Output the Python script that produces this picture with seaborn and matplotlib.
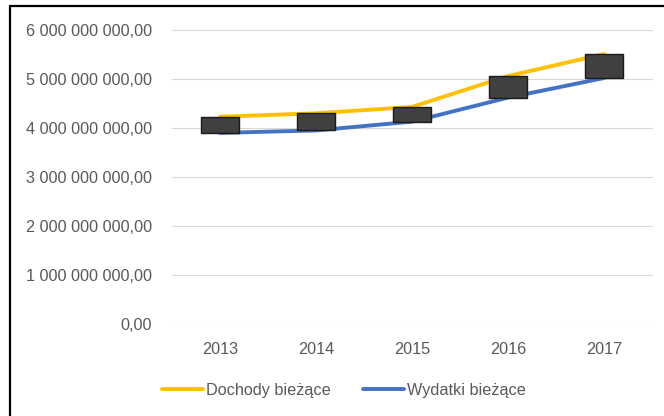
import matplotlib
matplotlib.use("Agg")
import matplotlib.pyplot as plt
from matplotlib.lines import Line2D
from matplotlib.ticker import FuncFormatter, MultipleLocator
import seaborn as sns
import pandas as pd

years = ["2013", "2014", "2015", "2016", "2017"]
dochody = [4.23e9, 4.30e9, 4.43e9, 5.06e9, 5.51e9]
wydatki = [3.90e9, 3.95e9, 4.13e9, 4.62e9, 5.02e9]
series_names = ["Dochody bieżące", "Wydatki bieżące"]
colors = ["#FFC000", "#4472C4"]

sns.set_theme(style="white")
plt.rcParams["font.family"] = ["Liberation Sans", "DejaVu Sans"]

df = pd.DataFrame({
    "Rok": years * 2,
    "Wartość": dochody + wydatki,
    "Seria": [series_names[0]] * len(years) + [series_names[1]] * len(years),
})

W, H = 664, 416
fig = plt.figure(figsize=(W / 100, H / 100), dpi=100)
ax = fig.add_axes([172 / W, 1 - 324 / H, (653 - 172) / W, (324 - 30) / H])

sns.lineplot(data=df, x="Rok", y="Wartość", hue="Seria", palette=colors,
             linewidth=2.8, ax=ax, legend=False, zorder=3)

low = [min(a, b) for a, b in zip(dochody, wydatki)]
diff = [abs(a - b) for a, b in zip(dochody, wydatki)]
ax.bar(years, diff, bottom=low, width=0.40, color="#404040",
       edgecolor="#1a1a1a", linewidth=1.0, zorder=4)

ax.set_xlim(-0.5, 4.51)
ax.set_ylim(0, 6e9)
ax.yaxis.set_major_locator(MultipleLocator(1e9))
ax.yaxis.set_major_formatter(FuncFormatter(
    lambda v, p: f"{v:,.2f}".replace(",", " ").replace(".", ",")))
ax.grid(axis="y", color="#d9d9d9", linewidth=0.8, zorder=0)
ax.set_axisbelow(True)
for s in ax.spines.values():
    s.set_visible(False)
ax.set_xlabel("")
ax.set_ylabel("")
ax.tick_params(axis="both", length=0, labelsize=11.7, colors="#595959")
ax.tick_params(axis="y", pad=14.5)
ax.tick_params(axis="x", pad=13)

handles = [Line2D([], [], color=c, linewidth=2.8) for c in colors]
fig.legend(handles, series_names, loc="center", bbox_to_anchor=(344 / W, 1 - 390 / H),
           ncol=2, frameon=False, fontsize=11.7, handlelength=2.5, handletextpad=0.2,
           columnspacing=2.0, labelcolor="#595959")

# outer frame
fig.add_artist(Line2D([10 / W, 10 / W], [0, 1 - 6 / H], color="black", linewidth=1.6,
                      transform=fig.transFigure))
fig.add_artist(Line2D([10 / W, 1], [1 - 6 / H, 1 - 6 / H], color="black", linewidth=1.6,
                      transform=fig.transFigure))

fig.savefig("out.png", dpi=100)
